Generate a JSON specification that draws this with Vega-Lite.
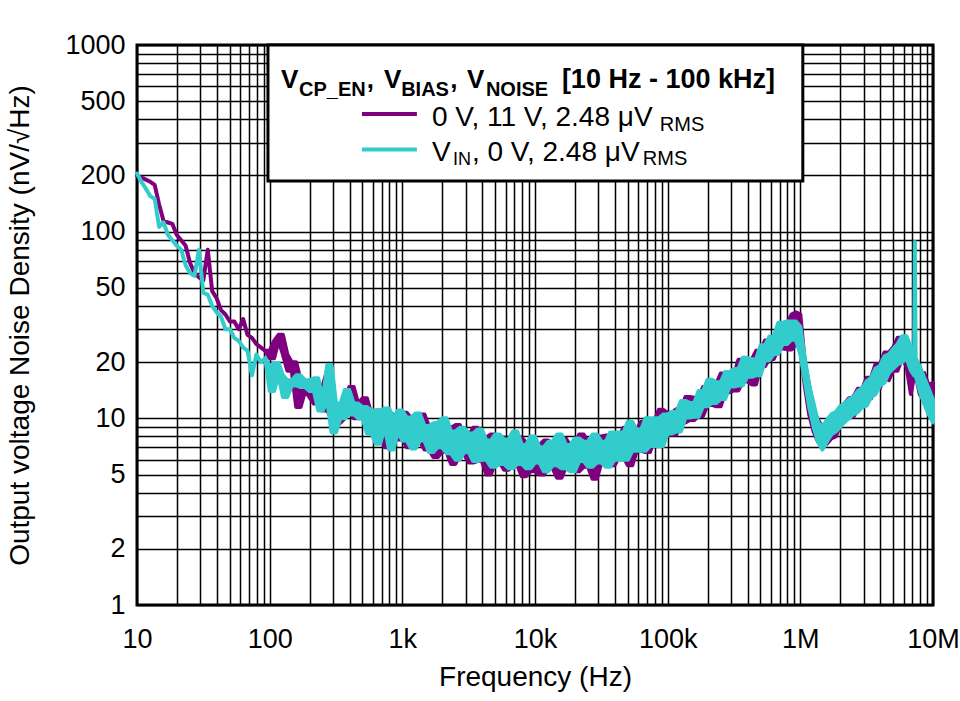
{
  "$schema": "https://vega.github.io/schema/vega-lite/v6.json",
  "width": 796,
  "height": 560,
  "autosize": {"type": "none"},
  "padding": {"left": 137, "top": 45, "right": 27, "bottom": 96},
  "background": "white",
  "config": {
    "view": {"stroke": "black", "strokeWidth": 3},
    "font": "Liberation Sans",
    "axis": {
      "grid": true, "gridColor": "black", "gridWidth": 1.5, "gridOpacity": 1,
      "ticks": false, "domain": false,
      "labelColor": "black", "labelFontSize": 27, "labelFont": "Liberation Sans",
      "labelOverlap": false, "labelFlush": false,
      "titleColor": "black", "titleFontSize": 28, "titleFontWeight": "normal", "titleFont": "Liberation Sans"
    }
  },
  "datasets": {
    "noise": [
      {"f":10,"cl":205,"ch":205,"pl":200,"ph":200},{"f":10.8,"cl":185,"ch":185,"pl":195,"ph":195},{"f":11.66,"cl":170,"ch":170,"pl":190,"ph":190},
      {"f":12.59,"cl":155,"ch":155,"pl":185,"ph":185},{"f":13.59,"cl":150,"ch":150,"pl":178,"ph":178},{"f":14.68,"cl":106,"ch":106,"pl":140,"ph":140},
      {"f":15.85,"cl":112,"ch":112,"pl":114,"ph":114},{"f":17.11,"cl":96,"ch":96,"pl":112,"ph":112},{"f":18.48,"cl":90,"ch":90,"pl":110,"ph":110},
      {"f":19.95,"cl":84,"ch":84,"pl":96,"ph":96},{"f":21.54,"cl":80,"ch":80,"pl":90,"ph":90},{"f":23.26,"cl":66,"ch":66,"pl":84,"ph":84},
      {"f":25.12,"cl":60,"ch":60,"pl":68,"ph":68},{"f":27.12,"cl":58,"ch":58,"pl":60,"ph":60},{"f":29.29,"cl":80,"ch":80,"pl":57,"ph":57},
      {"f":31.62,"cl":47,"ch":47,"pl":55,"ph":55},{"f":34.15,"cl":46,"ch":46,"pl":80,"ph":80},{"f":36.87,"cl":40,"ch":40,"pl":48,"ph":48},
      {"f":39.81,"cl":37,"ch":37,"pl":44,"ph":44},{"f":42.99,"cl":35,"ch":35,"pl":38,"ph":38},{"f":46.42,"cl":30,"ch":30,"pl":36,"ph":36},
      {"f":50.12,"cl":30,"ch":30,"pl":33,"ph":33},{"f":54.12,"cl":27,"ch":27,"pl":33,"ph":33},{"f":58.43,"cl":26,"ch":26,"pl":30,"ph":30},
      {"f":63.1,"cl":24,"ch":24,"pl":34,"ph":34},{"f":68.13,"cl":23,"ch":23,"pl":28,"ph":28},{"f":73.56,"cl":17,"ch":17,"pl":27,"ph":27},
      {"f":79.43,"cl":22,"ch":22,"pl":25,"ph":25},{"f":85.77,"cl":20,"ch":20,"pl":24,"ph":24},{"f":92.61,"cl":21,"ch":21,"pl":23,"ph":23},
      {"f":100,"cl":14,"ch":19,"pl":21,"ph":23},{"f":108,"cl":14,"ch":19.8,"pl":21,"ph":26},{"f":116.6,"cl":17,"ch":19.8,"pl":26,"ph":28},
      {"f":125.9,"cl":13,"ch":17,"pl":22,"ph":28},{"f":135.9,"cl":13,"ch":16,"pl":18,"ph":22},{"f":146.8,"cl":15,"ch":16,"pl":18,"ph":20},
      {"f":158.5,"cl":15,"ch":17,"pl":11.5,"ph":20},{"f":171.1,"cl":14.7,"ch":17,"pl":11.5,"ph":16},{"f":184.8,"cl":14.7,"ch":16,"pl":14,"ph":16},
      {"f":199.5,"cl":14,"ch":16,"pl":13,"ph":15.6},{"f":215.4,"cl":14,"ch":16.4,"pl":12,"ph":14},{"f":232.6,"cl":11,"ch":16.4,"pl":12.5,"ph":15},
      {"f":251.2,"cl":11,"ch":12.5,"pl":11,"ph":15},{"f":271.2,"cl":12.5,"ch":19.3,"pl":11,"ph":18},{"f":292.9,"cl":8.4,"ch":19.3,"pl":10,"ph":18},
      {"f":316.2,"cl":8.4,"ch":12,"pl":9,"ph":11},{"f":341.5,"cl":10,"ch":12,"pl":9.5,"ph":12},{"f":368.7,"cl":10,"ch":14.2,"pl":10,"ph":12},
      {"f":398.1,"cl":10.5,"ch":14.2,"pl":11,"ph":14.7},{"f":429.9,"cl":10.5,"ch":12,"pl":10,"ph":14.7},{"f":464.2,"cl":10,"ch":12,"pl":10,"ph":12},
      {"f":501.2,"cl":10,"ch":11.5,"pl":10,"ph":12.8},{"f":541.2,"cl":8.3,"ch":11.5,"pl":9.5,"ph":12.8},{"f":584.3,"cl":8.3,"ch":11,"pl":8.5,"ph":10.5},
      {"f":631,"cl":7.3,"ch":11,"pl":9,"ph":11},{"f":681.3,"cl":7.3,"ch":11,"pl":8,"ph":11},{"f":735.6,"cl":9,"ch":11.3,"pl":7,"ph":9.5},
      {"f":794.3,"cl":6.8,"ch":11.3,"pl":7,"ph":10.5},{"f":857.7,"cl":6.8,"ch":10,"pl":8.5,"ph":10.5},{"f":926.1,"cl":8.5,"ch":11,"pl":7.7,"ph":10},
      {"f":1000,"cl":7.6,"ch":11,"pl":7.7,"ph":10.7},{"f":1080,"cl":7.6,"ch":10.1,"pl":7,"ph":10.7},{"f":1166,"cl":6.9,"ch":10.1,"pl":7,"ph":10},
      {"f":1259,"cl":6.9,"ch":10.6,"pl":7.5,"ph":10},{"f":1359,"cl":7.6,"ch":10.6,"pl":7.5,"ph":10.5},{"f":1468,"cl":7.6,"ch":9.1,"pl":6.8,"ph":10.5},
      {"f":1585,"cl":6.6,"ch":9.1,"pl":6.8,"ph":9.1},{"f":1711,"cl":6.6,"ch":9.4,"pl":6.2,"ph":9.1},{"f":1848,"cl":7,"ch":9.4,"pl":6.2,"ph":9.5},
      {"f":1995,"cl":7,"ch":10,"pl":6.6,"ph":9.5},{"f":2154,"cl":6.5,"ch":10,"pl":6.6,"ph":8.9},{"f":2326,"cl":6.5,"ch":8.5,"pl":5.7,"ph":8.9},
      {"f":2512,"cl":6,"ch":8.5,"pl":5.7,"ph":9.2},{"f":2712,"cl":6,"ch":8.9,"pl":6.4,"ph":9.2},{"f":2929,"cl":6.6,"ch":8.9,"pl":6.4,"ph":8},
      {"f":3162,"cl":6.6,"ch":8.3,"pl":5.8,"ph":8},{"f":3415,"cl":5.9,"ch":8.3,"pl":5.8,"ph":8.9},{"f":3687,"cl":5.9,"ch":8.7,"pl":5.9,"ph":8.9},
      {"f":3981,"cl":6,"ch":8.7,"pl":5.9,"ph":7.9},{"f":4299,"cl":6,"ch":7.6,"pl":5,"ph":7.9},{"f":4642,"cl":5.5,"ch":7.6,"pl":5,"ph":8.2},
      {"f":5012,"cl":5.5,"ch":8.2,"pl":5.8,"ph":8.2},{"f":5412,"cl":5.7,"ch":8.2,"pl":5.8,"ph":7.9},{"f":5843,"cl":5.7,"ch":7.7,"pl":5.3,"ph":7.9},
      {"f":6310,"cl":5.4,"ch":7.7,"pl":5.3,"ph":7.4},{"f":6813,"cl":5.4,"ch":8.5,"pl":5.6,"ph":7.4},{"f":7356,"cl":5.7,"ch":8.5,"pl":5.6,"ph":7.9},
      {"f":7943,"cl":5.7,"ch":7.2,"pl":4.9,"ph":7.9},{"f":8577,"cl":5.4,"ch":7.2,"pl":4.9,"ph":7.4},{"f":9261,"cl":5.4,"ch":8,"pl":5.2,"ph":7.4},
      {"f":10000,"cl":5.8,"ch":8,"pl":5.2,"ph":7.2},{"f":10800,"cl":5.8,"ch":7,"pl":5,"ph":7.2},{"f":11660,"cl":5.2,"ch":7,"pl":5,"ph":7.6},
      {"f":12590,"cl":5.2,"ch":7.5,"pl":5.4,"ph":7.6},{"f":13590,"cl":5.6,"ch":7.5,"pl":5.4,"ph":7.3},{"f":14680,"cl":5.6,"ch":8.2,"pl":4.8,"ph":7.3},
      {"f":15850,"cl":5.4,"ch":8.2,"pl":4.8,"ph":7.8},{"f":17110,"cl":5.4,"ch":7.2,"pl":5.5,"ph":7.8},{"f":18480,"cl":5.2,"ch":7.2,"pl":5.5,"ph":7.1},
      {"f":19950,"cl":5.2,"ch":7.8,"pl":5.2,"ph":7.1},{"f":21540,"cl":5.9,"ch":7.8,"pl":5.2,"ph":8.2},{"f":23260,"cl":5.9,"ch":7.5,"pl":5.5,"ph":8.2},
      {"f":25120,"cl":5.5,"ch":7.5,"pl":5.5,"ph":7.5},{"f":27120,"cl":5.5,"ch":8.2,"pl":4.75,"ph":7.5},{"f":29290,"cl":5.8,"ch":8.2,"pl":4.75,"ph":8},
      {"f":31620,"cl":5.8,"ch":7.5,"pl":5.8,"ph":8},{"f":34150,"cl":5.5,"ch":7.5,"pl":5.8,"ph":8.1},{"f":36870,"cl":5.5,"ch":8.4,"pl":5.6,"ph":8.1},
      {"f":39810,"cl":6,"ch":8.4,"pl":5.6,"ph":8},{"f":42990,"cl":6,"ch":8.4,"pl":6.2,"ph":8},{"f":46420,"cl":6,"ch":8.4,"pl":6.2,"ph":8.9},
      {"f":50120,"cl":6,"ch":9.6,"pl":5.6,"ph":8.9},{"f":54120,"cl":6.7,"ch":9.6,"pl":5.6,"ph":8.7},{"f":58430,"cl":6.7,"ch":8.7,"pl":6.7,"ph":8.7},
      {"f":63100,"cl":6.7,"ch":8.7,"pl":6.7,"ph":9.6},{"f":68130,"cl":6.7,"ch":10,"pl":6.6,"ph":9.6},{"f":73560,"cl":7.1,"ch":10,"pl":6.6,"ph":9.7},
      {"f":79430,"cl":7.1,"ch":10,"pl":7.7,"ph":9.7},{"f":85770,"cl":7.1,"ch":10,"pl":7.7,"ph":11.1},{"f":92610,"cl":7.1,"ch":10.5,"pl":8.1,"ph":11.1},
      {"f":100000,"cl":8.3,"ch":10.5,"pl":8.1,"ph":10.7},{"f":108000,"cl":8.3,"ch":10.8,"pl":8.2,"ph":10.7},{"f":116600,"cl":8.5,"ch":10.8,"pl":8.2,"ph":11.2},
      {"f":125900,"cl":8.5,"ch":12.4,"pl":9.5,"ph":11.2},{"f":135900,"cl":10.1,"ch":12.4,"pl":9.5,"ph":13},{"f":146800,"cl":10.1,"ch":12.1,"pl":9.8,"ph":13},
      {"f":158500,"cl":10.2,"ch":12.1,"pl":9.8,"ph":12.9},{"f":171100,"cl":10.2,"ch":14,"pl":10.3,"ph":12.9},{"f":184800,"cl":11.6,"ch":14,"pl":10.3,"ph":14.7},
      {"f":199500,"cl":11.6,"ch":16.1,"pl":11.8,"ph":14.7},{"f":215400,"cl":12.1,"ch":16.1,"pl":11.8,"ph":15.3},{"f":232600,"cl":12.1,"ch":15.6,"pl":11.6,"ph":15.3},
      {"f":251200,"cl":12.7,"ch":15.6,"pl":11.6,"ph":17.4},{"f":271200,"cl":12.7,"ch":17.7,"pl":13.8,"ph":17.4},{"f":292900,"cl":14.8,"ch":17.7,"pl":13.8,"ph":17.2},
      {"f":316200,"cl":14.8,"ch":18.4,"pl":14.1,"ph":17.2},{"f":341500,"cl":15,"ch":18.4,"pl":14.1,"ph":20.6},{"f":368700,"cl":15,"ch":21.1,"pl":15.8,"ph":20.6},
      {"f":398100,"cl":16.7,"ch":21.1,"pl":15.8,"ph":20.6},{"f":429900,"cl":16.7,"ch":20.7,"pl":15.2,"ph":20.6},{"f":464200,"cl":17,"ch":20.7,"pl":15.2,"ph":23},
      {"f":501200,"cl":17,"ch":24.6,"pl":19,"ph":23},{"f":541200,"cl":20.5,"ch":24.6,"pl":19,"ph":26.1},{"f":584300,"cl":20.5,"ch":27.4,"pl":20.8,"ph":26.1},
      {"f":631000,"cl":22.1,"ch":27.4,"pl":20.8,"ph":27.8},{"f":681300,"cl":22.1,"ch":32.5,"pl":23.7,"ph":27.8},{"f":735600,"cl":25,"ch":32.5,"pl":23.7,"ph":32},
      {"f":794300,"cl":25,"ch":33,"pl":23.4,"ph":32},{"f":857700,"cl":26.4,"ch":33,"pl":23.4,"ph":36},{"f":926100,"cl":26.4,"ch":33,"pl":25,"ph":37},
      {"f":1000000,"cl":22,"ch":31,"pl":24,"ph":36},{"f":1080000,"cl":16,"ch":21,"pl":15,"ph":20},{"f":1166000,"cl":11.5,"ch":15,"pl":10.5,"ph":15},
      {"f":1259000,"cl":9,"ch":12,"pl":8.5,"ph":11},{"f":1359000,"cl":7.5,"ch":9.5,"pl":7.5,"ph":9.8},{"f":1468000,"cl":6.8,"ch":9,"pl":7.2,"ph":9},
      {"f":1585000,"cl":7.5,"ch":9.8,"pl":7.3,"ph":9.5},{"f":1711000,"cl":8.2,"ch":10.5,"pl":7.8,"ph":10.2},{"f":1848000,"cl":8.5,"ch":10.8,"pl":8,"ph":10.6},
      {"f":1995000,"cl":9,"ch":11.6,"pl":9.2,"ph":11},{"f":2154000,"cl":9.6,"ch":12,"pl":9.6,"ph":12},{"f":2326000,"cl":10,"ch":12.6,"pl":10.2,"ph":12.8},
      {"f":2512000,"cl":10.5,"ch":13,"pl":10.2,"ph":13},{"f":2712000,"cl":10.8,"ch":14,"pl":11.2,"ph":14.4},{"f":2929000,"cl":11.5,"ch":14.5,"pl":11.5,"ph":14.4},
      {"f":3162000,"cl":11.7,"ch":15.8,"pl":12.8,"ph":16.5},{"f":3415000,"cl":13,"ch":16.5,"pl":12.8,"ph":16.5},{"f":3687000,"cl":13.5,"ch":18.5,"pl":14.8,"ph":19.5},
      {"f":3981000,"cl":15,"ch":19,"pl":14.5,"ph":19.5},{"f":4299000,"cl":15.5,"ch":21.5,"pl":17,"ph":22.5},{"f":4642000,"cl":17.5,"ch":22,"pl":16,"ph":22.5},
      {"f":5012000,"cl":18.5,"ch":23.5,"pl":18,"ph":24},{"f":5412000,"cl":19.5,"ch":25,"pl":18,"ph":27},{"f":5843000,"cl":20,"ch":27.5,"pl":21,"ph":27},
      {"f":6310000,"cl":21,"ch":27.5,"pl":19,"ph":25},{"f":6813000,"cl":18,"ch":24,"pl":13.5,"ph":24},{"f":7200000,"cl":17,"ch":21,"pl":17,"ph":20},
      {"f":7300000,"cl":19,"ch":88,"pl":18,"ph":20},{"f":7400000,"cl":17,"ch":21,"pl":17,"ph":20},{"f":7943000,"cl":14,"ch":19,"pl":13.5,"ph":17.5},
      {"f":8577000,"cl":12,"ch":16.5,"pl":12.5,"ph":17.5},{"f":9261000,"cl":10.5,"ch":14.5,"pl":13,"ph":15},{"f":10000000,"cl":9.5,"ch":12.5,"pl":13.5,"ph":15.5}
    ]
  },
  "layer": [
    {
      "data": {"name": "noise"},
      "mark": {"type": "area", "color": "#7f007f", "stroke": "#7f007f", "strokeWidth": 4, "strokeJoin": "round", "opacity": 1},
      "encoding": {
        "x": {
          "field": "f", "type": "quantitative",
          "scale": {"type": "log", "domain": [10, 10000000]},
          "axis": {
            "title": "Frequency (Hz)",
            "values": [10,20,30,40,50,60,70,80,90,100,200,300,400,500,600,700,800,900,1000,2000,3000,4000,5000,6000,7000,8000,9000,10000,20000,30000,40000,50000,60000,70000,80000,90000,100000,200000,300000,400000,500000,600000,700000,800000,900000,1000000,2000000,3000000,4000000,5000000,6000000,7000000,8000000,9000000,10000000],
            "labelExpr": "datum.value == 10 ? '10' : datum.value == 100 ? '100' : datum.value == 1000 ? '1k' : datum.value == 10000 ? '10k' : datum.value == 100000 ? '100k' : datum.value == 1000000 ? '1M' : datum.value == 10000000 ? '10M' : ''",
            "labelPadding": 21,
            "titlePadding": 11
          }
        },
        "y": {
          "field": "pl", "type": "quantitative",
          "scale": {"type": "log", "domain": [1, 1000]},
          "axis": {
            "title": "Output voltage Noise Density (nV/√Hz)",
            "values": [1,2,3,4,5,6,7,8,9,10,20,30,40,50,60,70,80,90,100,200,300,400,500,600,700,800,900,1000],
            "labelExpr": "indexof([1,2,5,10,20,50,100,200,500,1000], datum.value) >= 0 ? '' + datum.value : ''",
            "labelPadding": 12,
            "titlePadding": 30
          }
        },
        "y2": {"field": "ph"}
      }
    },
    {
      "data": {"name": "noise"},
      "mark": {"type": "area", "color": "#33cccc", "stroke": "#33cccc", "strokeWidth": 4, "strokeJoin": "round", "opacity": 1},
      "encoding": {
        "x": {"field": "f", "type": "quantitative"},
        "y": {"field": "cl", "type": "quantitative"},
        "y2": {"field": "ch"}
      }
    },
    {
      "data": {"values": [{}]},
      "mark": {"type": "rect", "fill": "white", "stroke": "black", "strokeWidth": 3},
      "encoding": {
        "x": {"datum": 97.1, "type": "quantitative"}, "x2": {"datum": 1044000},
        "y": {"datum": 1000, "type": "quantitative"}, "y2": {"datum": 186.6}
      }
    },
    {
      "data": {"values": [{}]},
      "mark": {"type": "rule", "color": "#7f007f", "strokeWidth": 4},
      "encoding": {
        "x": {"datum": 496.1, "type": "quantitative"}, "x2": {"datum": 1288},
        "y": {"datum": 426.5, "type": "quantitative"}
      }
    },
    {
      "data": {"values": [{}]},
      "mark": {"type": "rule", "color": "#33cccc", "strokeWidth": 4},
      "encoding": {
        "x": {"datum": 496.1, "type": "quantitative"}, "x2": {"datum": 1288},
        "y": {"datum": 275.2, "type": "quantitative"}
      }
    },
    {
      "data": {"values": [{}]},
      "mark": {"type": "text", "text": "V", "fontWeight": "bold", "fontSize": 26, "align": "left", "baseline": "alphabetic", "color": "black"},
      "encoding": {"x": {"datum": 121.7, "type": "quantitative"}, "y": {"datum": 587.6, "type": "quantitative"}}
    },
    {
      "data": {"values": [{}]},
      "mark": {"type": "text", "text": "CP_EN", "fontWeight": "bold", "fontSize": 20, "align": "left", "baseline": "alphabetic", "color": "black"},
      "encoding": {"x": {"datum": 166.3, "type": "quantitative"}, "y": {"datum": 535.8, "type": "quantitative"}}
    },
    {
      "data": {"values": [{}]},
      "mark": {"type": "text", "text": ",", "fontWeight": "bold", "fontSize": 26, "align": "left", "baseline": "alphabetic", "color": "black"},
      "encoding": {"x": {"datum": 540, "type": "quantitative"}, "y": {"datum": 587.6, "type": "quantitative"}}
    },
    {
      "data": {"values": [{}]},
      "mark": {"type": "text", "text": "V", "fontWeight": "bold", "fontSize": 26, "align": "left", "baseline": "alphabetic", "color": "black"},
      "encoding": {"x": {"datum": 726.5, "type": "quantitative"}, "y": {"datum": 587.6, "type": "quantitative"}}
    },
    {
      "data": {"values": [{}]},
      "mark": {"type": "text", "text": "BIAS", "fontWeight": "bold", "fontSize": 20, "align": "left", "baseline": "alphabetic", "color": "black"},
      "encoding": {"x": {"datum": 980, "type": "quantitative"}, "y": {"datum": 535.8, "type": "quantitative"}}
    },
    {
      "data": {"values": [{}]},
      "mark": {"type": "text", "text": ",", "fontWeight": "bold", "fontSize": 26, "align": "left", "baseline": "alphabetic", "color": "black"},
      "encoding": {"x": {"datum": 2300, "type": "quantitative"}, "y": {"datum": 587.6, "type": "quantitative"}}
    },
    {
      "data": {"values": [{}]},
      "mark": {"type": "text", "text": "V", "fontWeight": "bold", "fontSize": 26, "align": "left", "baseline": "alphabetic", "color": "black"},
      "encoding": {"x": {"datum": 3068, "type": "quantitative"}, "y": {"datum": 587.6, "type": "quantitative"}}
    },
    {
      "data": {"values": [{}]},
      "mark": {"type": "text", "text": "NOISE", "fontWeight": "bold", "fontSize": 20, "align": "left", "baseline": "alphabetic", "color": "black"},
      "encoding": {"x": {"datum": 4266, "type": "quantitative"}, "y": {"datum": 535.8, "type": "quantitative"}}
    },
    {
      "data": {"values": [{}]},
      "mark": {"type": "text", "text": "[10 Hz - 100 kHz]", "fontWeight": "bold", "fontSize": 27, "align": "left", "baseline": "alphabetic", "color": "black"},
      "encoding": {"x": {"datum": 15944, "type": "quantitative"}, "y": {"datum": 587.6, "type": "quantitative"}}
    },
    {
      "data": {"values": [{}]},
      "mark": {"type": "text", "text": "0 V, 11 V, 2.48 μV", "fontSize": 28, "align": "left", "baseline": "alphabetic", "color": "black"},
      "encoding": {"x": {"datum": 1672, "type": "quantitative"}, "y": {"datum": 367.8, "type": "quantitative"}}
    },
    {
      "data": {"values": [{}]},
      "mark": {"type": "text", "text": "RMS", "fontSize": 20, "align": "left", "baseline": "alphabetic", "color": "black"},
      "encoding": {"x": {"datum": 87340, "type": "quantitative"}, "y": {"datum": 347.9, "type": "quantitative"}}
    },
    {
      "data": {"values": [{}]},
      "mark": {"type": "text", "text": "V", "fontSize": 28, "align": "left", "baseline": "alphabetic", "color": "black"},
      "encoding": {"x": {"datum": 1672, "type": "quantitative"}, "y": {"datum": 240.3, "type": "quantitative"}}
    },
    {
      "data": {"values": [{}]},
      "mark": {"type": "text", "text": "IN", "fontSize": 18, "align": "left", "baseline": "alphabetic", "color": "black"},
      "encoding": {"x": {"datum": 2406, "type": "quantitative"}, "y": {"datum": 227.3, "type": "quantitative"}}
    },
    {
      "data": {"values": [{}]},
      "mark": {"type": "text", "text": ", 0 V, 2.48 μV", "fontSize": 28, "align": "left", "baseline": "alphabetic", "color": "black"},
      "encoding": {"x": {"datum": 3346, "type": "quantitative"}, "y": {"datum": 240.3, "type": "quantitative"}}
    },
    {
      "data": {"values": [{}]},
      "mark": {"type": "text", "text": "RMS", "fontSize": 20, "align": "left", "baseline": "alphabetic", "color": "black"},
      "encoding": {"x": {"datum": 65030, "type": "quantitative"}, "y": {"datum": 227.3, "type": "quantitative"}}
    }
  ]
}
